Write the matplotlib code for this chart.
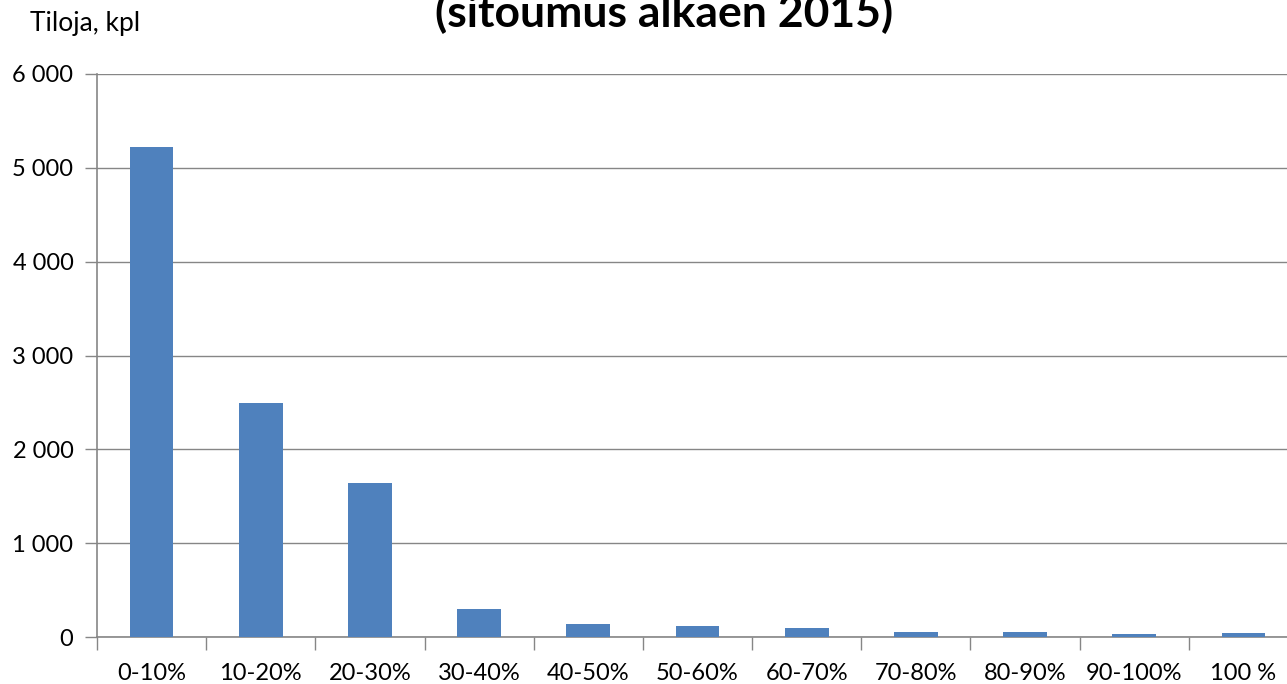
import matplotlib
matplotlib.use("Agg")
import matplotlib.pyplot as plt
from matplotlib.ticker import FuncFormatter, FixedLocator
import numpy as np

categories = ["0-10%", "10-20%", "20-30%", "30-40%", "40-50%", "50-60%",
              "60-70%", "70-80%", "80-90%", "90-100%", "100 %"]
values = [5220, 2490, 1640, 295, 135, 117, 96, 52, 58, 30, 43]
yticks = [0, 1000, 2000, 3000, 4000, 5000, 6000]

plt.rcParams['font.family'] = ['Lato', 'DejaVu Sans']

W, H = 1287, 684
fig = plt.figure(figsize=(W / 100, H / 100), dpi=100)
left, right, bottom, top = 97, 1298, 637, 74
ax = fig.add_axes([left / W, (H - bottom) / H, (right - left) / W, (bottom - top) / H])

x = np.arange(len(categories))
ax.bar(x, values, width=0.4, color="#4F81BD", zorder=3)

ax.set_xlim(-0.5, len(categories) - 0.5)
ax.set_ylim(0, 6000)
ax.set_yticks(yticks)
ax.yaxis.set_major_formatter(FuncFormatter(lambda v, p: f"{int(v):,}".replace(",", " ")))
ax.grid(axis="y", color="#868686", linewidth=1.0, zorder=0)

# category boundaries as major ticks, labels on minor ticks
ax.xaxis.set_major_locator(FixedLocator(np.arange(-0.5, len(categories) + 0.5, 1.0)))
ax.xaxis.set_minor_locator(FixedLocator(x))
ax.set_xticklabels([], minor=False)
ax.set_xticklabels(categories, minor=True)
ax.tick_params(axis="x", which="major", length=9, width=1, color="#868686", direction="out")
ax.tick_params(axis="x", which="minor", length=0, pad=19, labelsize=17)
ax.tick_params(axis="y", length=9, width=1, color="#868686", pad=8, labelsize=17)

for s in ["top", "right"]:
    ax.spines[s].set_visible(False)
for s in ["left", "bottom"]:
    ax.spines[s].set_color("#868686")
    ax.spines[s].set_linewidth(1.2)

fig.text(30 / W, 1 - 31 / H, "Tiloja, kpl", fontsize=19, ha="left", va="baseline")
fig.text(664 / W, 1 - 27 / H, "(sitoumus alkaen 2015)", fontsize=32, fontweight="bold",
         ha="center", va="baseline")

fig.savefig("out.png", dpi=100)
